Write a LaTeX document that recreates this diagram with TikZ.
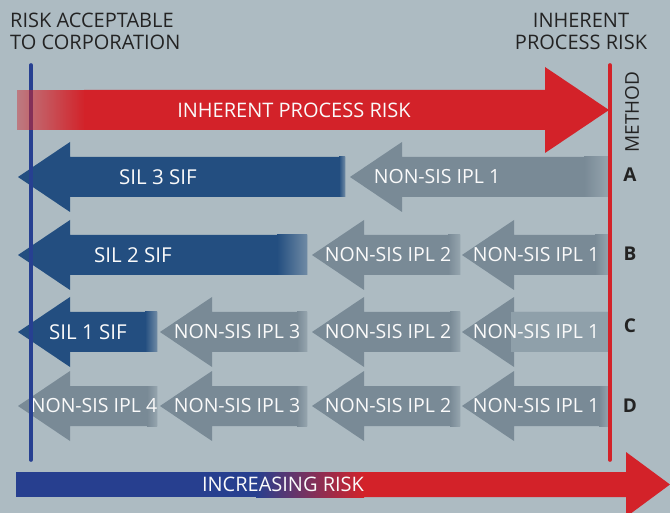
\documentclass[tikz,border=0pt]{standalone}
\usepackage{fontspec}
\setmainfont{Open Sans}
\usetikzlibrary{fadings}
\definecolor{bg}{RGB}{173,187,194}
\definecolor{ired}{RGB}{211,34,41}
\definecolor{lblue}{RGB}{39,64,145}
\definecolor{silblue}{RGB}{35,78,128}
\definecolor{bblue}{RGB}{39,63,143}
\definecolor{ipgray}{RGB}{121,138,150}
\definecolor{ipgraylt}{RGB}{143,160,170}
\definecolor{dtext}{RGB}{35,35,35}
\definecolor{wtext}{RGB}{250,250,250}
\tikzfading[name=redfade, left color=transparent!58, right color=transparent!0]
% left-pointing arrow: tip x, end x, centre y, colour, fade length
\newcommand\larr[5]{%
  \fill[#4] (#1,#3) -- (#1+52,#3-35) -- (#1+52,#3-20) -- (#2,#3-20) -- (#2,#3+20) -- (#1+52,#3+20) -- (#1+52,#3+35) -- cycle;
  \shade[left color=#4, right color=#4!45!bg] (#2-#5,#3-20) rectangle (#2,#3+20);
}
\begin{document}
\begin{tikzpicture}[x=1pt,y=-1pt,
  wtxt/.style={text=wtext, font=\fontsize{19.5}{22}\selectfont, inner sep=0pt},
  siltxt/.style={wtxt, font=\fontsize{20.5}{22}\selectfont},
  dtxt/.style={text=dtext, font=\fontsize{20}{22}\selectfont, inner sep=0pt},
  ltr/.style={text=dtext, font=\fontsize{19}{22}\selectfont\bfseries, inner sep=0pt},
  vline/.style={line width=3.6pt, line cap=round}]
\fill[bg] (0,0) rectangle (670,513);
\useasboundingbox (0,0) rectangle (670,513);

% top labels
\node[dtxt, anchor=base west] (rac1) at (10,28) {RISK ACCEPTABLE};
\node[dtxt, anchor=base west] (rac2) at (10,50) {TO CORPORATION};
\node[dtxt, anchor=base] (ipr1) at (581,28) {INHERENT};
\node[dtxt, anchor=base] (ipr2) at (581,50) {PROCESS RISK};

% row A
\larr{18}{345}{177}{silblue}{6}
\larr{350}{609}{177}{ipgray}{25}
\node[siltxt] (a1) at (158,177) {SIL 3 SIF};
\node[wtxt] (a2) at (437,177) {NON-SIS IPL 1};

% row B
\larr{18}{307}{255}{silblue}{30}
\larr{312}{460}{255}{ipgray}{12}
\larr{462}{609}{255}{ipgray}{14}
\node[siltxt] (b1) at (133,255) {SIL 2 SIF};
\node[wtxt] (b2) at (388,255) {NON-SIS IPL 2};
\node[wtxt] (b3) at (536,255) {NON-SIS IPL 1};

% row C
\larr{18}{157}{332}{silblue}{12}
\larr{160}{307}{332}{ipgray}{10}
\larr{312}{460}{332}{ipgray}{10}
\larr{462}{609}{332}{ipgray}{1}
\fill[ipgraylt] (511,312) rectangle (609,352);
\node[siltxt] (c1) at (88,332) {SIL 1 SIF};
\node[wtxt] (c2) at (237,332) {NON-SIS IPL 3};
\node[wtxt] (c3) at (388,332) {NON-SIS IPL 2};
\node[wtxt] (c4) at (536,332) {NON-SIS IPL 1};

% row D
\larr{18}{157}{406}{ipgray}{10}
\larr{160}{307}{406}{ipgray}{10}
\larr{312}{460}{406}{ipgray}{10}
\larr{462}{609}{406}{ipgray}{10}
\node[wtxt] (d1) at (94,406) {NON-SIS IPL 4};
\node[wtxt] (d2) at (237,406) {NON-SIS IPL 3};
\node[wtxt] (d3) at (388,406) {NON-SIS IPL 2};
\node[wtxt] (d4) at (536,406) {NON-SIS IPL 1};

% vertical lines
\coordinate (bt) at (31,65); \coordinate (bb) at (31,460);
\coordinate (rt) at (610,65); \coordinate (rb) at (610,460);
\draw[vline, lblue] (bt) -- (bb);

% inherent process risk arrow
\fill[ired] (84,90) -- (545,90) -- (545,67) -- (609,110) -- (545,153) -- (545,130) -- (84,130) -- cycle;
\fill[ired, path fading=redfade] (17,90) rectangle (85,130);
\node[wtxt, font=\fontsize{20}{22}\selectfont] (ipr) at (294,110) {INHERENT PROCESS RISK};

\draw[vline, ired] (rt) -- (rb);

% method labels
\node[dtxt, font=\fontsize{19}{22}\selectfont, rotate=90] (meth) at (632,112) {METHOD};
\node[ltr] (la) at (630,175) {A};
\node[ltr] (lb) at (630,254) {B};
\node[ltr] (lc) at (630,326) {C};
\node[ltr] (ld) at (630,406) {D};

% increasing risk arrow
\fill[bblue] (16,472) rectangle (257,497);
\shade[left color=bblue, right color=ired] (256,472) rectangle (364,497);
\fill[ired] (363,472) -- (626,472) -- (626,452) -- (670,484.5) -- (626,517) -- (626,497) -- (363,497) -- cycle;
\node[wtxt, font=\fontsize{20}{22}\selectfont] (inc) at (283,484.5) {INCREASING RISK};
\end{tikzpicture}
\end{document}
